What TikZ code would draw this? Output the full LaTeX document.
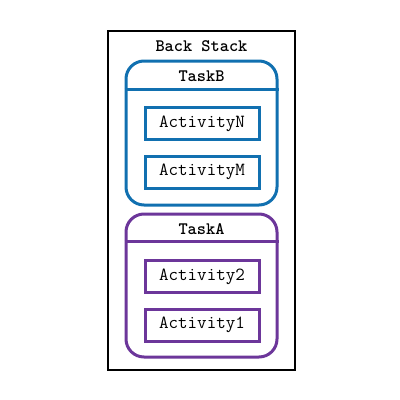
\documentclass[tikz,border=0pt]{standalone}
\usepackage{fontspec}
\newfontfamily\headfont{lmmonolt10-bold}[Extension=.otf]
\definecolor{taskblue}{HTML}{1170B0}
\definecolor{taskpurple}{HTML}{6C369A}
\tikzset{
	stackbox/.style={draw=black, line width=2pt, minimum width=187pt, minimum height=339pt},
	taskbox/.style={draw=#1, line width=3pt, rounded corners=18pt, minimum width=151pt},
	actbox/.style={draw=#1, line width=3pt, minimum width=114pt, minimum height=32pt},
	headtext/.style={font=\fontsize{17.5}{17.5}\selectfont\headfont},
	acttext/.style={font=\fontsize{18.5}{18.5}\selectfont\ttfamily}
}
\begin{document}
\begin{tikzpicture}[x=1pt,y=-1pt]
		\useasboundingbox (0,0) rectangle (400,400);
		% back stack
		\node [stackbox] (stack) at (201.5,200.5) {};
		\node [headtext] (stacktitle) at (201.5,46) {Back Stack};
		% task B
		\node [taskbox=taskblue, minimum height=144pt] (taskB) at (201.5,133) {};
		\draw [taskblue, line width=3pt] ([yshift=-29.5pt]taskB.north west) -- ([yshift=-29.5pt]taskB.north east);
		\node [headtext] (taskBtitle) at (201.5,76.5) {TaskB};
		\node [actbox=taskblue, acttext] (actN) at (202,123.5) {ActivityN};
		\node [actbox=taskblue, acttext] (actM) at (202,172) {ActivityM};
		% task A
		\node [taskbox=taskpurple, minimum height=143pt] (taskA) at (201.5,285.5) {};
		\draw [taskpurple, line width=3pt] ([yshift=-28.7pt]taskA.north west) -- ([yshift=-28.7pt]taskA.north east);
		\node [headtext] (taskAtitle) at (201.5,229.5) {TaskA};
		\node [actbox=taskpurple, acttext] (act2) at (202,276.5) {Activity2};
		\node [actbox=taskpurple, acttext] (act1) at (202,325) {Activity1};
\end{tikzpicture}
\end{document}
